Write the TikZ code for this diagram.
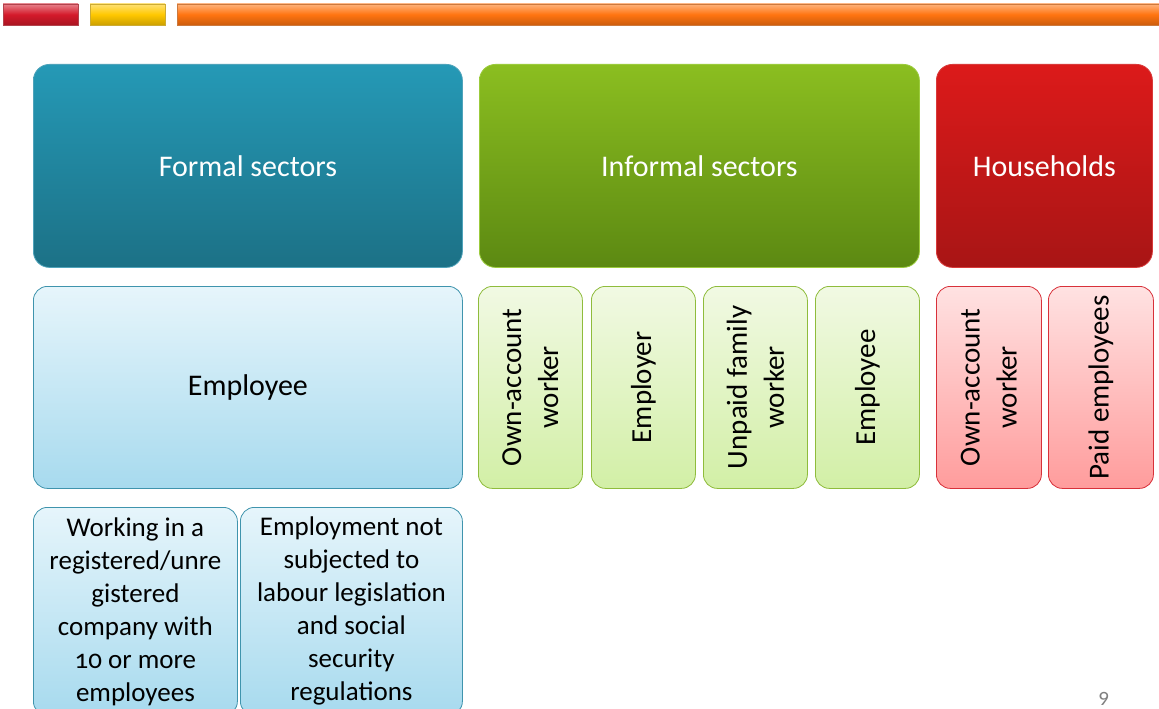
\documentclass[tikz,border=0pt]{standalone}
\usepackage{fontspec}
\setmainfont{Carlito}[Numbers=OldStyle]

\definecolor{barred}{HTML}{D41A2A}
\definecolor{baryellow}{HTML}{FFC800}
\definecolor{barorange}{HTML}{FF7410}
\definecolor{formaltop}{HTML}{2599B6}
\definecolor{formalbot}{HTML}{1C7186}
\definecolor{formalline}{HTML}{4FA3BA}
\definecolor{informaltop}{HTML}{8BBE20}
\definecolor{informalbot}{HTML}{5C8912}
\definecolor{informalline}{HTML}{9BCB3C}
\definecolor{housetop}{HTML}{DC1A1A}
\definecolor{housebot}{HTML}{A81515}
\definecolor{houseline}{HTML}{D83A3A}
\definecolor{lbluetop}{HTML}{E6F5FB}
\definecolor{lbluebot}{HTML}{A7DAEE}
\definecolor{lblueline}{HTML}{3F94AD}
\definecolor{lgreentop}{HTML}{F1F9E3}
\definecolor{lgreenbot}{HTML}{D2EFA6}
\definecolor{lgreenline}{HTML}{8FBC3C}
\definecolor{lpinktop}{HTML}{FFE2E2}
\definecolor{lpinkbot}{HTML}{FF9C9C}
\definecolor{lpinkline}{HTML}{D8313A}

\tikzset{
  head/.style={rounded corners=16pt, anchor=north west, inner sep=0pt,
    minimum height=203pt, text=white, line width=0.8pt,
    font=\fontsize{30}{36}\selectfont},
  sub/.style={rounded corners=14pt, anchor=north west, inner sep=0pt,
    minimum height=202pt, text=black, line width=0.8pt, align=center},
  vtext/.style={rotate=90, align=center, inner sep=0pt,
    font=\fontsize{29}{37}\selectfont},
  formalhead/.style={draw=formalline, top color=formaltop, bottom color=formalbot},
  informalhead/.style={draw=informalline, top color=informaltop, bottom color=informalbot},
  househead/.style={draw=houseline, top color=housetop, bottom color=housebot},
  formalsub/.style={draw=lblueline, top color=lbluetop, bottom color=lbluebot},
  informalsub/.style={draw=lgreenline, top color=lgreentop, bottom color=lgreenbot},
  housesub/.style={draw=lpinkline, top color=lpinktop, bottom color=lpinkbot}
}

\begin{document}
\begin{tikzpicture}[x=1pt,y=-1pt]
  \useasboundingbox[fill=white] (0,0) rectangle (1159,709);

  % bars at the top
  \foreach \xa/\xb/\c in {3/78/barred, 90/165/baryellow, 177/1165/barorange} {
    \draw[draw=\c!60!gray, top color=\c!55!white, bottom color=\c!80!black,
      middle color=\c] (\xa,4) rectangle (\xb,25);
  }

  % headers
  \node[head, formalhead, minimum width=429pt] (formal) at (33,64) {Formal sectors};
  \node[head, informalhead, minimum width=440pt] (informal) at (479,64) {Informal sectors};
  \node[head, househead, minimum width=216pt] (house) at (936,64) {Households};

  % second row
  \node[sub, formalsub, minimum width=429pt, font=\fontsize{30}{36}\selectfont]
    (femployee) at (33,286) {Employee};

  \foreach \x/\name/\txt in {478/iown/{Own-account\\worker}, 591/iemployer/Employer,
      703/iunpaid/{Unpaid family\\worker}, 815/iemployee/Employee} {
    \node[sub, informalsub, minimum width=104pt] (\name) at (\x,286) {};
    \node[vtext] (\name-txt) at (\name.center) {\txt};
  }

  \foreach \x/\name/\txt in {936/hown/{Own-account\\worker}, 1048/hpaid/{Paid employees}} {
    \node[sub, housesub, minimum width=105pt] (\name) at (\x,286) {};
    \node[vtext] (\name-txt) at (\name.center) {\txt};
  }

  % third row
  \node[sub, formalsub, minimum width=204pt, minimum height=208pt,
    font=\fontsize{27}{33}\selectfont] (working) at (33,507)
    {Working in a\\registered/unre\\gistered\\company with\\10 or more\\employees};
  \node[sub, formalsub, minimum width=222pt, minimum height=208pt,
    font=\fontsize{27}{33}\selectfont] (notsubj) at (240,507)
    {Employment not\\subjected to\\labour legislation\\and social\\security\\regulations};

  \node[text=gray, font=\fontsize{21}{24}\selectfont] (pagenum) at (1104,699) {9};
\end{tikzpicture}
\end{document}
